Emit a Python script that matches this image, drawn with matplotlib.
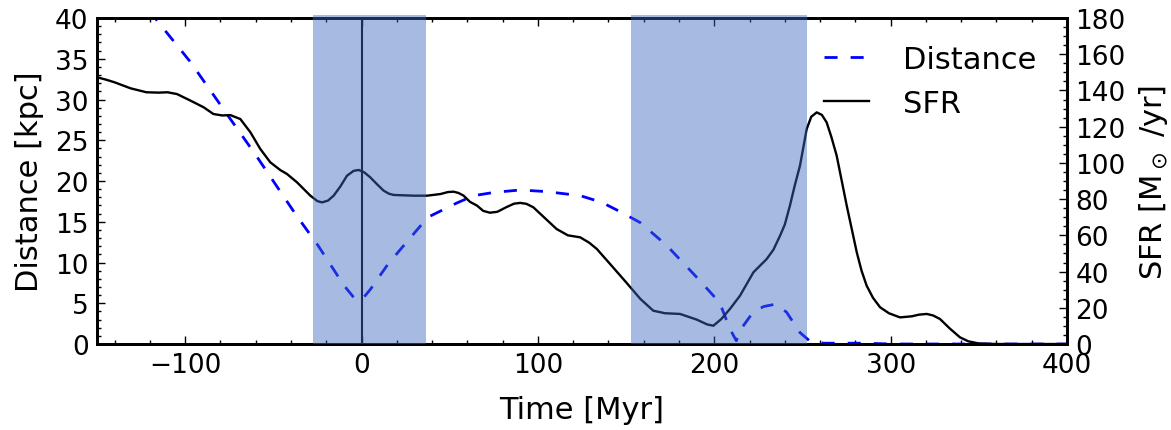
import numpy as np
import matplotlib
matplotlib.use("Agg")
import matplotlib.pyplot as plt
from matplotlib.ticker import MultipleLocator, AutoMinorLocator

# distance of the companion [kpc] vs time [Myr]
dist_time = [-120, -116, -97, -75, -60, -37, -25, -10, -4, 0, 5, 15, 24, 35, 39, 54,
             63.6, 75, 90, 105, 124, 136, 147, 158, 173, 190, 203, 209, 212.5, 215,
             222, 228, 235, 241, 248.6, 254, 262, 285, 300, 400]
dist_kpc = [41.0, 39.7, 34.6, 27.8, 23.2, 15.8, 12.2, 7.2, 5.6, 5.4, 6.7, 9.8, 12.1,
            14.9, 15.7, 17.3, 18.2, 18.6, 18.9, 18.7, 18.2, 17.4, 16.2, 14.9, 12.1,
            8.2, 5.1, 1.8, 0.4, 1.8, 3.9, 4.6, 4.9, 3.9, 1.4, 0.4, 0.1, 0.1, 0.0, 0.0]

# star formation rate [Msun/yr] vs time [Myr]
sfr_time = [-150, -145, -140, -131, -122, -115, -110, -104.6, -97, -89.5, -84, -79,
            -74.4, -68.7, -63, -57.4, -51.7, -46, -42.3, -36.6, -29, -25, -22.4, -19,
            -15.8, -12, -8.25, -4.5, -1.6, 1.5, 5, 9, 12.5, 15.5, 18.2, 29.5, 37.1,
            44.7, 49, 52.2, 55, 57.9, 61.5, 65.5, 69, 72.8, 77, 82, 86.5, 90, 93.5,
            97.4, 104, 110.6, 117, 124, 129, 133.4, 142, 150, 158, 165.4, 172, 180.6,
            190, 196, 199.5, 204, 209, 214.6, 222.2, 229.7, 233.5, 237.3, 240, 242.9,
            245.5, 248.6, 252.4, 255, 258.1, 261, 263.7, 266.5, 269.4, 275.1, 280.8,
            283.5, 286.4, 290, 294, 299, 305.3, 312, 316, 320.4, 324, 328, 333.5,
            339.3, 344, 350, 360, 400]
sfr_vals = [147.3, 146, 144.5, 141.2, 139, 138.8, 139, 138, 134.4, 130.7, 127, 126.2,
            126.4, 124.2, 116.9, 107.7, 100.3, 96, 93.9, 89.3, 81.9, 78.9, 78.2, 79.2,
            81.9, 87, 92.9, 95.6, 96.1, 94.8, 92, 88, 84.7, 83, 82.3, 81.9, 81.9,
            82.8, 83.9, 84.1, 83.4, 81.9, 78.5, 76.4, 73.5, 72.5, 73, 75.5, 77.5, 77.9,
            77.4, 75.5, 69.5, 63.5, 60, 58.9, 56, 52.5, 43, 34.1, 25, 18.4, 17, 16.6,
            13.5, 10.8, 10.1, 13.8, 19.5, 26.7, 39.6, 46.9, 52, 59.8, 66, 76.4,
            87, 98.5, 118.7, 125.5, 127.9, 126.5, 122.4, 114, 104, 76.4, 50.6,
            40.5, 32.2, 25.5, 20.3, 17, 14.7, 15.3, 16.2, 16.6, 15.8, 13.8, 8.6,
            3.7, 1.5, 0.3, 0, 0]

# shaded intervals [Myr]
spans = [(-27.5, 36.5), (152.8, 252.6)]

fig = plt.figure(figsize=(11.71, 4.31), dpi=100)
ax1 = fig.add_axes([0.0828, 0.1995, 0.8284, 0.7564])
ax2 = ax1.twinx()

l1, = ax1.plot(dist_time, dist_kpc, color="b", lw=2, linestyle=(0, (4.7, 4.7)),
               label="Distance")
ax1.axvline(0, color="k", lw=1.5)
l2, = ax2.plot(sfr_time, sfr_vals, color="k", lw=1.7, label="SFR")

for x0, x1 in spans:
    ax2.axvspan(x0, x1, ymin=0, ymax=1.01, color=(60/255, 104/255, 191/255),
                alpha=0.45, lw=0, zorder=3, clip_on=False)

ax1.set_xlim(-150, 400)
ax1.set_ylim(0, 40)
ax2.set_ylim(0, 180)

ax1.xaxis.set_major_locator(MultipleLocator(100))
ax1.xaxis.set_minor_locator(MultipleLocator(20))
ax1.yaxis.set_major_locator(MultipleLocator(5))
ax1.yaxis.set_minor_locator(MultipleLocator(1))
ax2.yaxis.set_major_locator(MultipleLocator(20))
ax2.yaxis.set_minor_locator(AutoMinorLocator(4))

for ax in (ax1, ax2):
    ax.tick_params(which="major", direction="in", length=6, width=1,
                   labelsize=19, pad=6)
    ax.tick_params(which="minor", direction="in", length=3, width=1)
    for sp in ax.spines.values():
        sp.set_linewidth(2)
ax1.tick_params(axis="x", which="both", top=True)

ax1.set_xlabel("Time [Myr]", fontsize=22, labelpad=12)
ax1.set_ylabel("Distance [kpc]", fontsize=22, labelpad=8)
ax2.set_ylabel(r"SFR [M$_\odot$ /yr]", fontsize=22, labelpad=8)

ax2.legend([l1, l2], ["Distance", "SFR"], loc="upper right", frameon=False,
           fontsize=22, handlelength=1.47, handletextpad=1.1, labelspacing=0.49,
           borderaxespad=0, bbox_to_anchor=(0.981, 0.956))

fig.savefig("out.png", dpi=100)
